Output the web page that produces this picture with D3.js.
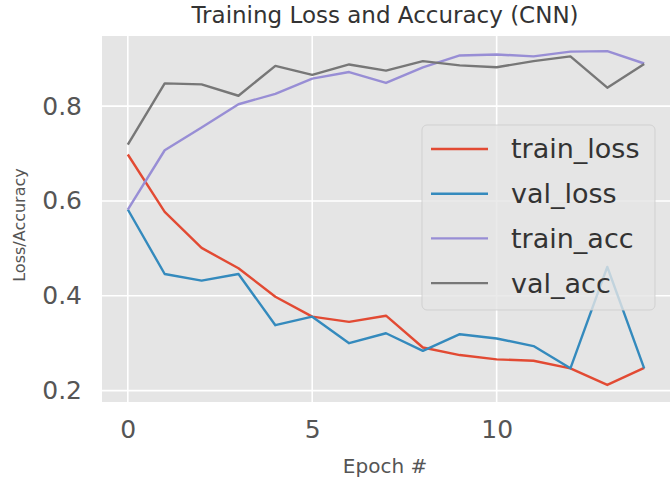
<!DOCTYPE html>
<html>
<head>
<meta charset="utf-8">
<script src="https://cdn.jsdelivr.net/npm/d3@7"></script>
<style>
  body { margin: 0; background: #fff; }
  svg { display: block; font-family: "DejaVu Sans", sans-serif; }
</style>
</head>
<body>
<svg id="chart" width="671" height="480"></svg>
<script>
// values
const epochs = d3.range(0, 15);
const trainLoss = [0.698, 0.577, 0.501, 0.458, 0.398, 0.356, 0.345, 0.358, 0.291, 0.275, 0.266, 0.263, 0.247, 0.212, 0.248];
const valLoss   = [0.582, 0.446, 0.432, 0.446, 0.338, 0.356, 0.300, 0.321, 0.284, 0.319, 0.310, 0.294, 0.247, 0.461, 0.247];
const trainAcc  = [0.582, 0.707, 0.755, 0.804, 0.826, 0.858, 0.872, 0.849, 0.882, 0.907, 0.909, 0.905, 0.915, 0.916, 0.890];
const valAcc    = [0.719, 0.848, 0.846, 0.822, 0.885, 0.866, 0.888, 0.875, 0.895, 0.886, 0.882, 0.895, 0.905, 0.839, 0.889];
const seriesNames = ["train_loss", "val_loss", "train_acc", "val_acc"];
const colors = ["#E24A33", "#348ABD", "#988ED5", "#777777"];
const xTicks = [0, 5, 10];
const yTicks = [0.2, 0.4, 0.6, 0.8];

const svg = d3.select("#chart");
const m = { left: 102, right: 670, top: 36, bottom: 402 };

let x = d3.scaleLinear().domain([-0.7, 14.7]).range([m.left, m.right]);
let y = d3.scaleLinear().domain([0.176, 0.948]).range([m.bottom, m.top]);

// panel
svg.append("rect")
    .attr("x", m.left).attr("y", m.top)
    .attr("width", m.right - m.left).attr("height", m.bottom - m.top)
    .attr("fill", "#E5E5E5");

// grid
let grid = svg.append("g").attr("stroke", "#fff").attr("stroke-width", 1.6);
grid.selectAll(".gx").data(xTicks).enter().append("line")
    .attr("x1", d => x(d)).attr("x2", d => x(d))
    .attr("y1", m.top).attr("y2", m.bottom);
grid.selectAll(".gy").data(yTicks).enter().append("line")
    .attr("y1", d => y(d)).attr("y2", d => y(d))
    .attr("x1", m.left).attr("x2", m.right);

// axes
let xAxis = svg.append("g")
    .attr("transform", `translate(0,${m.bottom})`)
    .call(d3.axisBottom(x).tickValues(xTicks).tickSize(0).tickPadding(18));
let yAxis = svg.append("g")
    .attr("transform", `translate(${m.left},0)`)
    .call(d3.axisLeft(y).tickValues(yTicks).tickFormat(d3.format(".1f")).tickSize(0).tickPadding(20));
[xAxis, yAxis].forEach(a => {
    a.select(".domain").remove();
    a.selectAll("text")
        .attr("fill", "#555")
        .style("font-size", "25px")
        .style("font-family", "DejaVu Sans");
});
xAxis.selectAll("text").attr("dy", "0.71em");

// lines
let series = [trainLoss, valLoss, trainAcc, valAcc];
let line = d3.line().x((d, i) => x(epochs[i])).y(d => y(d));
svg.append("g").selectAll("path").data(series).enter().append("path")
    .attr("d", line)
    .attr("fill", "none")
    .attr("stroke", (d, i) => colors[i])
    .attr("stroke-width", 2.4)
    .attr("stroke-linejoin", "round");

// legend
let lg = svg.append("g");
lg.append("rect")
    .attr("x", 422).attr("y", 125).attr("width", 233).attr("height", 185)
    .attr("rx", 5)
    .attr("fill", "#E5E5E5").attr("fill-opacity", 0.8)
    .attr("stroke", "#CCCCCC").attr("stroke-opacity", 0.8);
let rows = lg.selectAll(".row").data(seriesNames).enter().append("g")
    .attr("transform", (d, i) => `translate(0,${149 + i * 44.7})`);
rows.append("line")
    .attr("x1", 431).attr("x2", 488)
    .attr("stroke", (d, i) => colors[i]).attr("stroke-width", 2.4);
rows.append("text")
    .attr("x", 511).attr("dy", "0.35em")
    .attr("fill", "#333")
    .style("font-size", "27px")
    .text(d => d);

// title & labels
svg.append("text")
    .attr("x", 385).attr("y", 23)
    .attr("text-anchor", "middle").attr("fill", "#333")
    .style("font-size", "23px")
    .text("Training Loss and Accuracy (CNN)");
svg.append("text")
    .attr("x", 385).attr("y", 473)
    .attr("text-anchor", "middle").attr("fill", "#555")
    .style("font-size", "20px")
    .text("Epoch #");
svg.append("text")
    .attr("transform", `translate(25,225) rotate(-90)`)
    .attr("text-anchor", "middle").attr("fill", "#555")
    .style("font-size", "16px")
    .text("Loss/Accuracy");
</script>
</body>
</html>
